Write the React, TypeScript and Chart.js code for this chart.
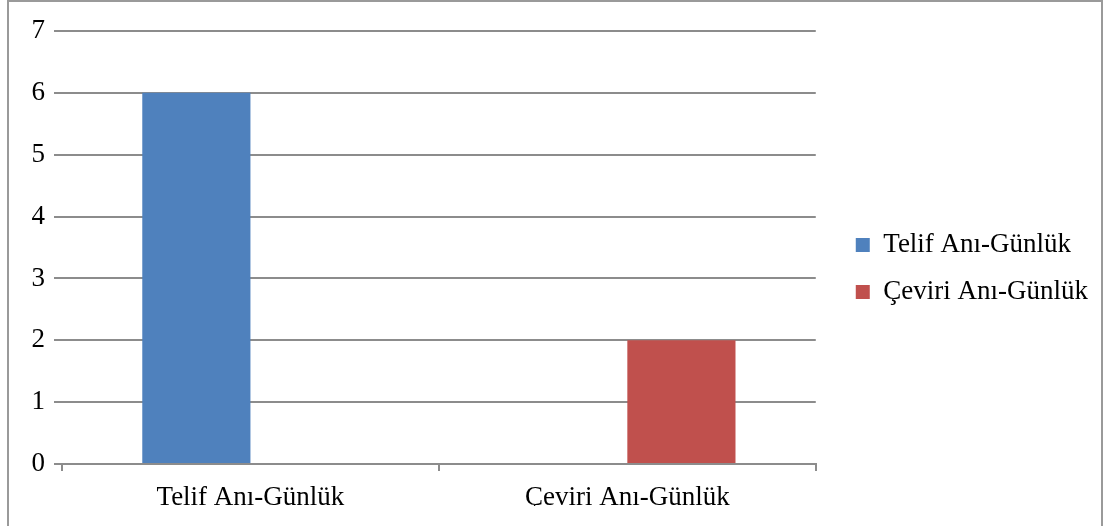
import React, { useEffect, useRef } from "react";
import { Chart, registerables } from "chart.js";

Chart.register(...registerables);

const categories = ["Telif Anı-Günlük", "Çeviri Anı-Günlük"];
const seriesNames = ["Telif Anı-Günlük", "Çeviri Anı-Günlük"];
const telifValues = [6, null];
const ceviriValues = [null, 2];
const yTicks = [0, 1, 2, 3, 4, 5, 6, 7];

const FONT = "'Liberation Serif', 'Times New Roman', serif";
const GRID = "#8c8c8c";

export default function App() {
  const ref = useRef<HTMLCanvasElement | null>(null);

  useEffect(() => {
    if (!ref.current) return;
    const chart = new Chart(ref.current, {
      type: "bar",
      data: {
        labels: categories,
        datasets: [
          {
            label: seriesNames[0],
            data: telifValues,
            backgroundColor: "#4F81BD",
            categoryPercentage: 0.574,
            barPercentage: 1,
          },
          {
            label: seriesNames[1],
            data: ceviriValues,
            backgroundColor: "#C0504D",
            categoryPercentage: 0.574,
            barPercentage: 1,
          },
        ],
      },
      options: {
        animation: false,
        responsive: false,
        devicePixelRatio: 1,
        layout: { padding: { left: 8, top: 31, right: 8, bottom: 20 } },
        plugins: {
          tooltip: { enabled: false },
          legend: {
            position: "right",
            align: "center",
            maxWidth: 400,
            labels: {
              font: { family: FONT, size: 27 },
              color: "#000",
              boxWidth: 14,
              boxHeight: 14,
              padding: 20,
            },
          },
        },
        scales: {
          x: {
            grid: {
              offset: true,
              drawOnChartArea: false,
              drawTicks: true,
              tickLength: 7,
              color: GRID,
              lineWidth: 2,
            },
            border: { display: true, color: GRID, width: 2 },
            ticks: {
              font: { family: FONT, size: 27 },
              color: "#000",
              padding: 11,
              maxRotation: 0,
            },
            afterFit: (s: any) => {
              s.height = 42;
            },
          },
          y: {
            min: 0,
            max: 7,
            afterBuildTicks: (s: any) => {
              s.ticks = yTicks.map((v) => ({ value: v }));
            },
            grid: {
              color: GRID,
              lineWidth: 2,
              drawTicks: true,
              tickLength: 8,
            },
            border: { display: false },
            ticks: {
              font: { family: FONT, size: 27 },
              color: "#000",
              padding: 9,
            },
            afterFit: (s: any) => {
              s.width = 54;
            },
          },
          spacer: {
            type: "linear",
            position: "right",
            display: true,
            grid: { display: false, drawTicks: false },
            border: { display: false },
            ticks: { display: false },
            afterFit: (s: any) => {
              s.width = 20;
            },
          },
        },
      } as any,
    });
    return () => chart.destroy();
  }, []);

  return (
    <div style={{ position: "absolute", left: 0, top: 0, width: 1106, height: 526, background: "#fff", overflow: "hidden" }}>
      <canvas ref={ref} width={1106} height={526} style={{ position: "absolute", left: 0, top: 0 }} />
      <div
        style={{
          position: "absolute",
          left: 7,
          top: 0,
          width: 1096,
          height: 540,
          border: "2px solid #9a9a9a",
          borderBottom: "none",
          pointerEvents: "none",
          boxSizing: "border-box",
        }}
      />
    </div>
  );
}
